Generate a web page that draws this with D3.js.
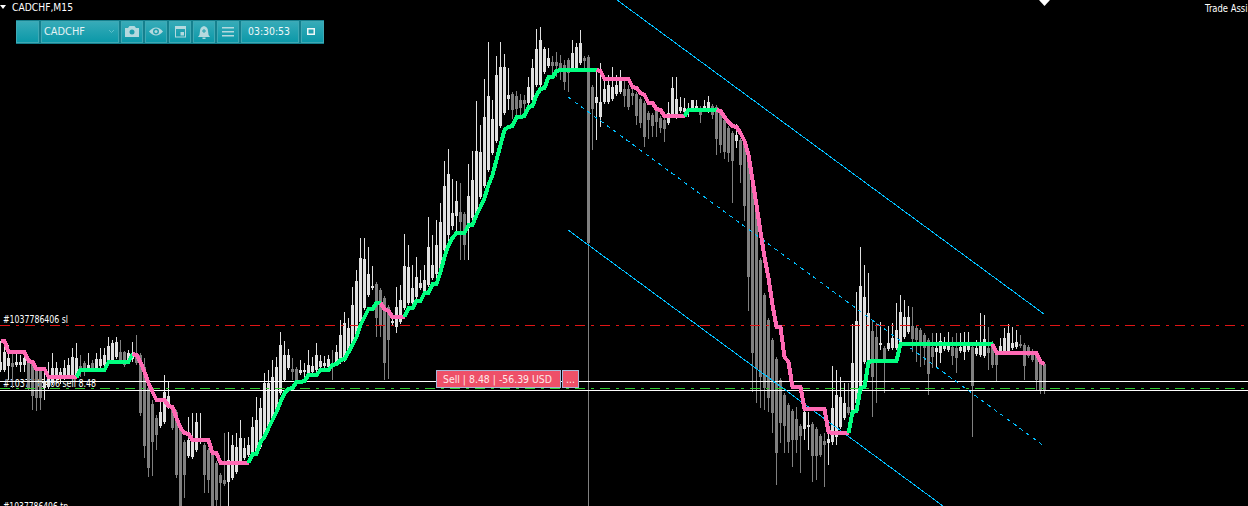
<!DOCTYPE html>
<html lang="en">
<head>
<meta charset="utf-8">
<title>CADCHF,M15</title>
<script src="https://d3js.org/d3.v7.min.js"></script>
<style>
  html, body { margin: 0; padding: 0; background: #000; overflow: hidden; }
  svg { display: block; }
  text { font-family: "DejaVu Sans", sans-serif; }
</style>
</head>
<body>
<div id="chart"></div>
<script>
// candles, in points above the bottom of the visible window
const opens = [
  136,136,140,143,141,141,141,144,142,138,
  136,118,119,123,128,129,130,129,131,129,
  140,143,136,143,138,140,141,144,146,149,
  154,154,144,147,153,151,139,118,102,88,
  80,84,99,99,94,76,64,50,49,56,
  64,61,56,53,43,31,26,24,28,34,
  43,48,51,54,53,59,71,78,84,93,
  113,126,138,137,137,133,134,129,134,136,
  139,140,139,143,143,144,146,156,159,169,
  184,198,211,218,222,216,208,199,183,179,
  184,198,203,203,209,218,213,221,228,232,
  233,256,271,280,290,294,292,278,288,289,
  309,320,336,353,365,380,393,407,412,410,
  406,406,403,406,421,421,434,440,444,444,
  443,441,446,436,436,443,448,449,419,403,
  389,404,404,407,412,414,417,417,413,412,
  407,403,393,391,398,388,386,383,391,389,
  395,394,396,396,397,398,398,395,400,399,
  393,386,378,373,365,366,366,353,328,299,
  246,211,186,166,147,126,111,101,95,87,
  80,77,79,82,77,70,65,63,64,69,
  79,88,99,96,103,119,144,146,175,169,
  161,158,157,158,158,163,169,174,180,178,
  176,171,166,159,154,153,157,156,159,158,
  155,154,156,159,152,151,150,158,163,154,
  153,153,153,158,159,162,161,159,155,153,
  146,142
];
const closes = [
  144,154,148,139,144,144,148,118,110,108,
  108,125,129,138,138,134,138,141,149,148,
  134,135,141,138,147,147,151,160,163,164,
  146,141,153,151,143,93,60,38,64,71,
  94,114,110,78,31,0,31,66,68,84,
  68,31,26,0,6,23,22,46,61,59,
  68,58,61,79,86,98,123,123,129,139,
  161,151,151,134,126,136,136,141,140,151,
  145,143,147,139,154,171,183,178,201,225,
  248,247,232,220,188,180,143,166,185,199,
  206,240,239,218,229,223,226,259,241,261,
  284,320,332,293,305,284,261,310,326,355,
  354,389,410,387,431,439,439,411,396,397,
  398,402,419,438,457,466,457,448,440,440,
  436,424,433,453,459,463,445,263,397,409,
  404,417,421,419,421,427,410,399,410,390,
  383,369,386,380,384,378,377,393,418,407,
  399,398,398,406,400,391,400,404,391,367,
  361,354,353,345,371,341,300,229,153,137,
  129,118,108,93,53,83,80,64,66,66,
  70,94,81,50,50,51,61,67,98,111,
  109,103,93,143,185,220,209,193,129,146,
  163,147,163,168,176,194,189,189,167,166,
  161,158,132,149,158,165,160,161,150,148,
  159,162,161,120,158,161,167,153,141,141,
  160,168,173,163,164,160,140,150,146,126,
  116,115
];
const highs = [
  165,164,161,152,154,151,153,146,144,140,
  138,138,144,153,144,138,146,148,158,163,
  151,145,153,146,153,158,158,169,166,169,
  166,155,156,164,171,153,148,124,106,91,
  106,131,125,101,96,78,66,89,93,93,
  93,63,58,55,45,33,73,74,71,73,
  86,68,69,89,109,108,133,136,146,149,
  174,165,157,148,139,146,143,156,149,163,
  151,150,151,156,161,186,194,188,219,236,
  268,268,259,240,224,218,210,201,187,219,
  221,272,261,241,249,236,241,289,271,286,
  303,345,357,327,325,323,294,342,355,405,
  381,427,464,406,450,464,452,438,414,415,
  412,411,429,447,477,479,459,458,450,454,
  451,446,448,466,463,476,450,451,421,436,
  443,426,431,439,431,436,427,421,419,414,
  409,405,395,393,400,390,388,404,429,429,
  409,408,403,406,406,400,406,410,402,401,
  395,388,380,375,382,368,368,355,330,301,
  248,213,188,168,149,128,113,103,97,99,
  82,101,94,84,79,72,73,73,140,136,
  129,123,123,182,214,259,241,233,186,183,
  184,160,180,183,203,211,206,200,199,180,
  178,173,168,173,173,173,169,174,169,173,
  173,174,174,161,166,193,191,179,165,156,
  168,178,182,179,176,171,163,161,157,155,
  148,144
];
const lows = [
  134,134,126,118,139,134,134,116,96,95,
  96,106,117,121,126,122,126,127,129,128,
  129,130,134,135,136,138,139,142,144,147,
  144,139,143,144,141,90,48,29,30,56,
  78,82,97,76,28,0,8,48,47,54,
  62,13,13,0,0,0,20,0,26,32,
  41,46,49,52,51,57,69,76,82,91,
  111,124,136,126,124,131,126,127,132,134,
  137,138,137,126,141,142,144,154,157,167,
  182,196,209,216,169,169,126,127,181,173,
  182,196,201,201,207,216,211,219,226,222,
  231,248,261,276,274,246,246,246,282,287,
  307,318,334,351,363,378,391,396,387,388,
  390,394,401,404,419,419,432,438,431,429,
  426,416,414,434,434,441,436,0,356,366,
  379,402,402,405,410,412,399,396,401,381,
  378,359,367,369,369,373,364,381,389,387,
  393,392,389,394,395,383,396,393,387,351,
  353,347,344,303,358,323,285,195,114,103,
  98,96,94,73,21,63,53,53,39,53,
  33,66,56,24,26,49,19,41,61,61,
  77,86,91,94,101,117,142,144,89,103,
  156,113,155,156,156,161,167,172,154,144,
  139,141,111,138,139,143,155,154,141,133,
  153,146,154,69,150,149,148,136,138,125,
  151,151,151,156,157,158,126,148,144,116,
  112,112
];

// trend line drawn over the candles
const trend = [
  165,165,154,154,154,154,154,145,144,137,
  137,137,129,129,129,129,129,129,129,129,
  136,136,136,136,136,136,136,144,144,144,
  144,144,144,152,151,144,134,123,114,106,
  106,106,100,99,88,78,73,72,66,66,
  66,66,66,53,53,43,43,43,43,43,
  43,43,43,52,52,64,69,78,86,94,
  104,113,117,118,124,124,125,131,131,131,
  136,136,136,141,142,146,147,154,161,169,
  181,189,197,197,203,203,197,195,189,189,
  189,189,198,198,205,205,213,213,222,222,
  234,249,261,268,273,273,273,281,281,291,
  299,308,321,331,346,361,376,379,380,389,
  389,390,399,400,411,417,418,429,429,435,
  436,436,436,436,436,436,436,436,436,436,
  435,427,427,427,427,427,427,427,419,418,
  413,411,403,403,397,396,390,390,390,390,
  390,390,396,396,396,396,396,396,396,396,
  395,389,384,380,379,373,365,351,326,301,
  274,249,228,201,179,179,149,144,119,119,
  119,97,97,97,97,97,97,74,73,73,
  73,73,73,94,95,118,119,144,145,145,
  145,145,145,145,145,162,162,162,162,162,
  162,162,162,162,162,162,162,162,162,162,
  162,162,162,162,162,162,162,162,162,153,
  153,153,153,153,153,153,153,153,153,153,
  144,142
];

// order levels
const whiteLevels = [125, 116];
const slLevel = 181;
const entryLevel = 118;

// channel, as [candle index, points]
const channelTop = [[154.25, 506], [261, 192]];
const channelMid = [[142, 409], [261, 60]];
const channelBottom = [[142, 276], [235.75, 0]];

const toolbarCells = [
  { x: 16, w: 23 }, { x: 41, w: 78, label: "CADCHF" }, { x: 121, w: 22, icon: "camera" },
  { x: 145, w: 22, icon: "eye" }, { x: 169, w: 22, icon: "calendar" }, { x: 193, w: 22, icon: "bell" },
  { x: 217, w: 22, icon: "menu" }, { x: 241, w: 58, label: "03:30:53" }, { x: 301, w: 23, icon: "window" }
];

const width = 1248, height = 506;
const lightCandle = "#e0e0e0", darkCandle = "#808080";
const up = "#00ff7f", down = "#ff69b4";

const x = d3.scaleLinear().domain([0, 261]).range([0, 1044]);
const y = d3.scaleLinear().domain([0, 506]).range([506, 0]);

const svg = d3.select("#chart").append("svg")
  .attr("width", width)
  .attr("height", height)
  .style("background", "#000");

// small white label helper, width forced because the original font is narrower
function label(txt, px, py, len, fill) {
  return svg.append("text")
    .attr("x", px).attr("y", py)
    .attr("fill", fill || "#fff")
    .attr("font-size", 10.5)
    .attr("textLength", len)
    .attr("lengthAdjust", "spacingAndGlyphs")
    .text(txt);
}

label("#1037786406 sl", 3, 323, 65);
label("#1037786406 sell 8.48", 3, 387, 93);
label("#1037786406 tp", 3, 510, 65);

// candles
const candles = d3.range(opens.length);
const color = i => closes[i] >= opens[i] ? lightCandle : darkCandle;

svg.append("g").attr("shape-rendering", "crispEdges")
  .selectAll("rect.wick").data(candles).join("rect")
  .attr("class", "wick")
  .attr("x", i => x(i))
  .attr("width", 1)
  .attr("y", i => y(highs[i]))
  .attr("height", i => y(lows[i]) - y(highs[i]))
  .attr("fill", color);

svg.append("g").attr("shape-rendering", "crispEdges")
  .selectAll("rect.body").data(candles).join("rect")
  .attr("class", "body")
  .attr("x", i => x(i) - 1)
  .attr("width", 3)
  .attr("y", i => y(Math.max(opens[i], closes[i])))
  .attr("height", i => Math.max(1, Math.abs(opens[i] - closes[i])))
  .attr("fill", color);

// horizontal levels
const hline = (level, stroke, dash) => svg.append("line")
  .attr("x1", 0).attr("x2", width)
  .attr("y1", y(level) + 0.5).attr("y2", y(level) + 0.5)
  .attr("stroke", stroke)
  .attr("stroke-dasharray", dash || null)
  .attr("shape-rendering", "crispEdges");

hline(slLevel, "#e01515", "10 6 3 6");
whiteLevels.forEach(l => hline(l, "#ffffff"));
hline(entryLevel, "#32cd32", "10 6 3 6");

// channel lines
const channelLine = d3.line().x(d => x(d[0])).y(d => y(d[1]));
[[channelTop, null], [channelMid, "4 4"], [channelBottom, null]].forEach(c => {
  svg.append("path")
    .attr("d", channelLine(c[0]))
    .attr("fill", "none")
    .attr("stroke", "#00bfff")
    .attr("stroke-dasharray", c[1])
    .attr("shape-rendering", "crispEdges");
});

// trend line, green while rising, pink while falling, flat parts keep the last colour
const trendLine = d3.line().x(i => x(i) + 0.5).y(i => y(trend[i]));
let runs = [], current = down;
let run = [0];
for (let i = 1; i < trend.length; i++) {
  let c = trend[i] > trend[i - 1] ? up : trend[i] < trend[i - 1] ? down : current;
  if (c !== current) {
    runs.push({ color: current, pts: run });
    run = [i - 1];
    current = c;
  }
  run.push(i);
}
runs.push({ color: current, pts: run });

svg.append("g").selectAll("path").data(runs).join("path")
  .attr("d", d => trendLine(d.pts))
  .attr("fill", "none")
  .attr("stroke", d => d.color)
  .attr("stroke-width", 4)
  .attr("stroke-linejoin", "round")
  .attr("shape-rendering", "crispEdges");

// order buttons
svg.append("rect").attr("x", 436.5).attr("y", 370.5).attr("width", 124).attr("height", 17)
  .attr("fill", "#ee5068").attr("stroke", "#a8b8d8");
svg.append("rect").attr("x", 562.5).attr("y", 370.5).attr("width", 16).attr("height", 17)
  .attr("fill", "#ee5068").attr("stroke", "#a8b8d8");
label("Sell | 8.48 | -56.39 USD", 443, 383, 109, "#ffe8ea");
label("...", 566, 383, 9, "#ffe8ea");

// top markers and header text
svg.append("path").attr("d", "M0,5 L6,5 L3,9 Z").attr("fill", "#fff");
svg.append("path").attr("d", "M1039,0 L1050,0 L1044.5,6 Z").attr("fill", "#fff");
label("CADCHF,M15", 12, 11, 61);
label("Trade Assi", 1205, 12, 42.5, "#fff");

// toolbar
const defs = svg.append("defs");
const grad = defs.append("linearGradient").attr("id", "bar").attr("x1", 0).attr("x2", 0).attr("y1", 0).attr("y2", 1);
grad.append("stop").attr("offset", "0%").attr("stop-color", "#37abb8");
grad.append("stop").attr("offset", "100%").attr("stop-color", "#0b98a8");

const bar = svg.append("g");
bar.append("rect").attr("x", 16).attr("y", 20).attr("width", 308).attr("height", 24).attr("fill", "#15808e");
bar.selectAll("rect.cell").data(toolbarCells).join("rect")
  .attr("class", "cell")
  .attr("x", d => d.x + 0.5).attr("y", 21.5)
  .attr("width", d => d.w - 1).attr("height", 21)
  .attr("fill", "url(#bar)").attr("stroke", "#3fa9b5");

bar.append("text").attr("x", 44).attr("y", 35).attr("fill", "#e4f2f4").attr("font-size", 11)
  .attr("textLength", 41).attr("lengthAdjust", "spacingAndGlyphs").text("CADCHF");
bar.append("text").attr("x", 248).attr("y", 35).attr("fill", "#f0f8f9").attr("font-size", 11)
  .attr("textLength", 42).attr("lengthAdjust", "spacingAndGlyphs").text("03:30:53");
bar.append("path").attr("d", "M109,30 L111.5,32.5 L114,30").attr("fill", "none").attr("stroke", "#5cc0cb");

const ink = "#b4d9de";
// camera
bar.append("path").attr("d", "M125,28 h3 l1.5,-2 h5 l1.5,2 h3 v9 h-14 Z").attr("fill", ink);
bar.append("circle").attr("cx", 132).attr("cy", 32).attr("r", 2.5).attr("fill", "#1fa0ae");
// eye
bar.append("path").attr("d", "M149,31.5 Q156,23.5 163,31.5 Q156,39.5 149,31.5 Z").attr("fill", ink);
bar.append("circle").attr("cx", 156).attr("cy", 31.5).attr("r", 3).attr("fill", "#1fa0ae");
bar.append("circle").attr("cx", 156).attr("cy", 31.5).attr("r", 1.5).attr("fill", ink);
// calendar
bar.append("rect").attr("x", 175.5).attr("y", 27.5).attr("width", 10).attr("height", 9.5).attr("fill", "none").attr("stroke", ink);
bar.append("rect").attr("x", 175).attr("y", 26).attr("width", 11).attr("height", 3).attr("fill", ink);
bar.append("rect").attr("x", 180.5).attr("y", 32).attr("width", 3.5).attr("height", 3.5).attr("fill", ink);
// bell
bar.append("path").attr("d", "M198,37 q2,-2 2,-6 q0,-4 4,-5 q4,1 4,5 q0,4 2,6 Z").attr("fill", ink);
bar.append("rect").attr("x", 202.5).attr("y", 37.5).attr("width", 3).attr("height", 1.5).attr("fill", ink);
bar.append("path").attr("d", "M204,29 v4 M202,31 h4").attr("stroke", "#1fa0ae").attr("stroke-width", 1);
// menu
[27, 31, 35].forEach(v => bar.append("rect").attr("x", 222).attr("y", v).attr("width", 12).attr("height", 1.5).attr("fill", ink));
// window
bar.append("rect").attr("x", 307.75).attr("y", 28.75).attr("width", 6.5).attr("height", 5.5).attr("fill", "none").attr("stroke", "#eef7f8").attr("stroke-width", 1.5);
</script>
</body>
</html>
